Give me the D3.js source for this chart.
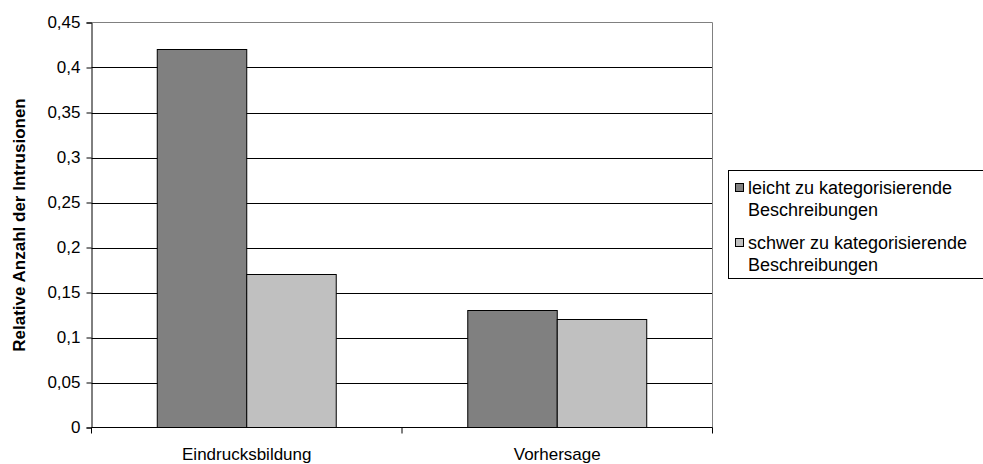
<!DOCTYPE html>
<html>
<head>
<meta charset="utf-8">
<script src="https://cdn.jsdelivr.net/npm/d3@7"></script>
<style>
  html, body { margin: 0; padding: 0; background: #fff; }
  svg { display: block; font-family: "Liberation Sans", Arial, sans-serif; }
</style>
</head>
<body>
<svg id="chart" width="983" height="464"></svg>
<script>
// Categories, series and axis ticks
const categories = ["Eindrucksbildung", "Vorhersage"];
const seriesNames = [
  ["leicht zu kategorisierende", "Beschreibungen"],
  ["schwer zu kategorisierende", "Beschreibungen"]
];
const leichtValues = [0.42, 0.13];
const schwerValues = [0.17, 0.12];
const seriesColors = ["#808080", "#c0c0c0"];
const yTicks = [0, 0.05, 0.1, 0.15, 0.2, 0.25, 0.3, 0.35, 0.4, 0.45];
const yTitle = "Relative Anzahl der Intrusionen";

const series = [leichtValues, schwerValues];
const fmt = v => String(+v.toFixed(2)).replace(".", ",");
const FONT = 17;
const LEGEND_FONT = 18;

const svg = d3.select("#chart");
const plot = { left: 91.5, right: 712.5, top: 22.5, bottom: 427.5 };

const x = d3.scaleBand().domain(categories).range([plot.left, plot.right]).paddingInner(0).paddingOuter(0);
const y = d3.scaleLinear().domain([0, 0.45]).range([plot.bottom, plot.top]);
const barW = x.bandwidth() * 0.2882;
const groupOffset = (x.bandwidth() - 2 * barW) / 2;

// Horizontal gridlines
svg.append("g").selectAll("line")
  .data(yTicks.filter(t => t > 0 && t < 0.45))
  .join("line")
  .attr("x1", plot.left).attr("x2", plot.right)
  .attr("y1", d => Math.round(y(d)) + 0.5).attr("y2", d => Math.round(y(d)) + 0.5)
  .attr("stroke", "#000").attr("stroke-width", 1);

// Plot area border (top and right)
svg.append("path")
  .attr("d", `M${plot.left},${plot.top}H${plot.right}V${plot.bottom}`)
  .attr("fill", "none").attr("stroke", "#808080").attr("stroke-width", 1);

// Bars
series.forEach((vals, si) => {
  svg.append("g").selectAll("rect")
    .data(categories.map((c, i) => ({ c, v: vals[i] })))
    .join("rect")
    .attr("x", d => x(d.c) + groupOffset + si * barW)
    .attr("y", d => y(d.v))
    .attr("width", barW)
    .attr("height", d => y(0) - y(d.v))
    .attr("fill", seriesColors[si])
    .attr("stroke", "#000").attr("stroke-width", 1);
});

// Y axis
const yAxis = d3.axisLeft(y).tickValues(yTicks).tickFormat(fmt).tickSize(5).tickPadding(6);
const gy = svg.append("g").attr("transform", `translate(${plot.left},0)`).call(yAxis);
gy.select(".domain").attr("stroke", "#000");
gy.selectAll(".tick line").attr("stroke", "#000");
gy.selectAll(".tick text").attr("font-size", FONT).attr("fill", "#000")
  .attr("font-family", "Liberation Sans, Arial, sans-serif");

// X axis baseline with ticks at category boundaries
const gx = svg.append("g");
gx.append("line")
  .attr("x1", plot.left).attr("x2", plot.right)
  .attr("y1", plot.bottom).attr("y2", plot.bottom)
  .attr("stroke", "#000");
const bounds = categories.map(c => x(c)).concat([x(categories[categories.length - 1]) + x.bandwidth()]);
gx.selectAll("line.tk").data(bounds).join("line").attr("class", "tk")
  .attr("x1", d => d).attr("x2", d => d)
  .attr("y1", plot.bottom).attr("y2", plot.bottom + 6)
  .attr("stroke", "#000");
gx.selectAll("text").data(categories).join("text")
  .attr("x", d => x(d) + x.bandwidth() / 2)
  .attr("y", 460)
  .attr("text-anchor", "middle")
  .attr("font-size", FONT)
  .text(d => d);

// Y axis title
svg.append("text")
  .attr("transform", `translate(25,${(plot.top + plot.bottom) / 2}) rotate(-90)`)
  .attr("text-anchor", "middle")
  .attr("font-size", FONT)
  .attr("font-weight", "bold")
  .text(yTitle);

// Legend
const lg = svg.append("g");
lg.append("rect")
  .attr("x", 728.5).attr("y", 170.5).attr("width", 260).attr("height", 108)
  .attr("fill", "#fff").attr("stroke", "#000");
const rowBase = [194, 249];
seriesNames.forEach((lines, i) => {
  lg.append("rect")
    .attr("x", 735.5).attr("y", rowBase[i] - 10.5).attr("width", 8).attr("height", 8)
    .attr("fill", seriesColors[i]).attr("stroke", "#000");
  lines.forEach((t, j) => {
    lg.append("text")
      .attr("x", 748).attr("y", rowBase[i] + j * 22)
      .attr("font-size", LEGEND_FONT)
      .text(t);
  });
});
</script>
</body>
</html>
